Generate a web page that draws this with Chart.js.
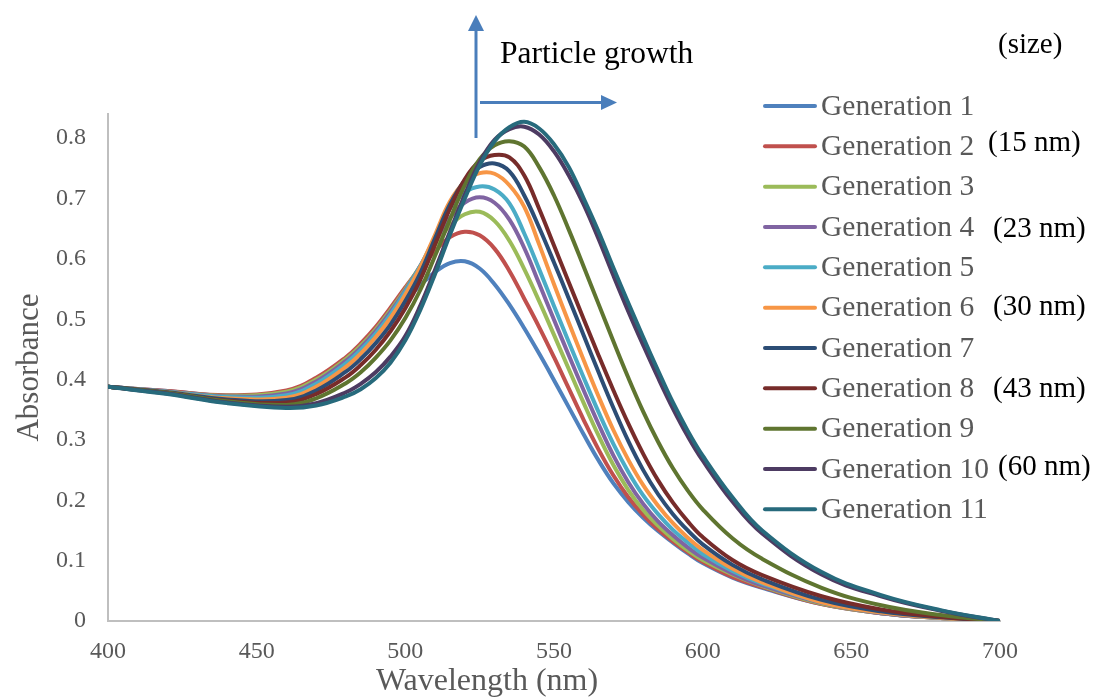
<!DOCTYPE html>
<html>
<head>
<meta charset="utf-8">
<script src="https://cdn.jsdelivr.net/npm/chart.js@4/dist/chart.umd.min.js"></script>
<style>
html,body{margin:0;padding:0;background:#ffffff;}
#wrap{width:1094px;height:698px;position:relative;}
</style>
</head>
<body>
<div id="wrap"><canvas id="c" width="1094" height="698"></canvas></div>
<script>
// ---- data ----
const wavelengths = [400,420,440,460,470,480,485,490,495,500,505,510,515,520,525,530,535,540,545,550,555,560,565,570,575,580,585,590,595,600,610,620,640,660,680,700];

const gen1  = [.388,.381,.373,.379,.398, .428,.449,.474,.502,.530, .556,.578,.593,.596,.584, .558,.524,.485,.443,.399, .354,.309,.266,.228,.197, .171,.149,.130,.112,.096, .072,.055,.028,.013,.005,0];
const gen2  = [.388,.381,.374,.382,.403, .437,.460,.487,.519,.553, .585,.613,.636,.645,.639, .617,.580,.534,.487,.437, .385,.333,.284,.241,.205, .176,.152,.132,.114,.098, .073,.056,.028,.013,.005,0];
const gen3  = [.388,.380,.373,.380,.400, .434,.456,.483,.515,.550, .588,.623,.655,.674,.678, .663,.630,.583,.530,.474, .417,.361,.307,.258,.217, .184,.158,.136,.117,.101, .077,.058,.029,.013,.005,0];
const gen4  = [.388,.380,.372,.377,.397, .431,.453,.480,.512,.548, .588,.630,.668,.693,.702, .693,.665,.618,.559,.499, .440,.382,.326,.274,.230, .194,.165,.142,.122,.105, .079,.059,.030,.013,.005,0];
const gen5  = [.388,.380,.371,.374,.393, .427,.449,.476,.508,.546, .588,.636,.683,.710,.720, .715,.692,.642,.583,.522, .462,.403,.346,.293,.247, .208,.177,.151,.130,.111, .083,.062,.031,.014,.005,0];
const gen6  = [.388,.379,.369,.370,.388, .421,.443,.470,.502,.541, .586,.640,.695,.728,.742, .741,.722,.686,.624,.558, .494,.432,.372,.316,.267, .225,.191,.162,.138,.118, .087,.064,.031,.014,.005,0];
const gen7  = [.388,.379,.367,.366,.382, .413,.434,.460,.491,.530, .576,.634,.690,.730,.752, .758,.745,.705,.652,.594, .534,.473,.412,.353,.298, .250,.210,.177,.150,.127, .093,.069,.035,.016,.006,0];
const gen8  = [.388,.378,.365,.362,.376, .404,.424,.449,.480,.518, .565,.624,.683,.732,.762, .772,.768,.738,.683,.622, .561,.500,.440,.382,.327, .277,.233,.196,.165,.139, .101,.076,.041,.019,.007,0];
const gen9  = [.388,.378,.364,.358,.369, .394,.412,.436,.465,.502, .548,.605,.665,.722,.765, .788,.795,.786,.752,.705, .648,.587,.525,.463,.403, .347,.297,.253,.216,.185, .137,.103,.055,.026,.010,0];
const gen10 = [.388,.377,.362,.355,.361, .379,.393,.412,.438,.472, .522,.582,.645,.706,.760, .797,.815,.819,.806,.778, .738,.690,.633,.572,.513, .457,.403,.352,.306,.266, .198,.145,.077,.041,.017,0];
const gen11 = [.388,.376,.361,.353,.357, .372,.384,.402,.428,.465, .515,.575,.640,.700,.755, .795,.818,.827,.816,.790, .752,.700,.645,.585,.527, .470,.415,.362,.315,.274, .205,.150,.081,.043,.018,0];

const seriesNames = ['Generation 1','Generation 2','Generation 3','Generation 4','Generation 5','Generation 6','Generation 7','Generation 8','Generation 9','Generation 10','Generation 11'];
const seriesColors = ['#4F81BD','#C0504D','#9BBB59','#8064A2','#4BACC6','#F79646','#2C4D75','#772C2A','#5F7530','#4D3B62','#276A7C'];

const xTicks = [400,450,500,550,600,650,700];
const xTickLabels = ['400','450','500','550','600','650','700'];
const yTicks = [0,0.1,0.2,0.3,0.4,0.5,0.6,0.7,0.8];
const yTickLabels = ['0','0.1','0.2','0.3','0.4','0.5','0.6','0.7','0.8'];

const sizeLabels = ['(size)','(15 nm)','(23 nm)','(30 nm)','(43 nm)','(60 nm)'];
const growthLabel = 'Particle growth';
const xTitle = 'Wavelength (nm)';
const yTitle = 'Absorbance';

// ---- rendering ----
const allSeries = [gen1,gen2,gen3,gen4,gen5,gen6,gen7,gen8,gen9,gen10,gen11];
const SERIF = "'Liberation Serif','Times New Roman',serif";

const datasets = allSeries.map((vals,i)=>({
  label: seriesNames[i],
  data: wavelengths.map((w,j)=>({x:w, y:vals[j]})),
  borderColor: seriesColors[i],
  backgroundColor: seriesColors[i],
  borderWidth: 4,
  pointRadius: 0,
  pointHoverRadius: 0,
  fill: false,
  tension: 0.4,
  borderCapStyle: 'round',
  borderJoinStyle: 'round',
  order: allSeries.length - i
}));

const overlay = {
  id: 'overlay',
  afterDraw(chart){
    const ctx = chart.ctx;
    ctx.save();
    // legend (drawn inside the plot, like the original)
    const legTop = 106, legGap = 40.33;
    chart.data.datasets.forEach((ds,i)=>{
      const y = legTop + i*legGap;
      ctx.strokeStyle = ds.borderColor;
      ctx.lineWidth = 4;
      ctx.lineCap = 'round';
      ctx.beginPath(); ctx.moveTo(765, y); ctx.lineTo(815, y); ctx.stroke();
      ctx.fillStyle = '#595959';
      ctx.font = '29.5px ' + SERIF;
      ctx.textAlign = 'left';
      ctx.textBaseline = 'middle';
      ctx.fillText(ds.label, 821, y + 1);
    });
    // size notes
    const notePos = [[998,45],[988,143],[993,229],[993,307],[993,389],[998,467]];
    ctx.fillStyle = '#000000';
    ctx.font = '29px ' + SERIF;
    ctx.textBaseline = 'middle';
    sizeLabels.forEach((t,i)=>ctx.fillText(t, notePos[i][0], notePos[i][1]));
    // particle growth
    ctx.font = '31.5px ' + SERIF;
    ctx.textBaseline = 'alphabetic';
    ctx.fillText(growthLabel, 500, 63);
    // arrows
    ctx.strokeStyle = '#4A7EBB';
    ctx.fillStyle = '#4A7EBB';
    ctx.lineWidth = 3;
    ctx.lineCap = 'butt';
    ctx.beginPath(); ctx.moveTo(476,138); ctx.lineTo(476,28); ctx.stroke();
    ctx.beginPath(); ctx.moveTo(476,15); ctx.lineTo(468,31); ctx.lineTo(484,31); ctx.closePath(); ctx.fill();
    ctx.beginPath(); ctx.moveTo(480,102.5); ctx.lineTo(603,102.5); ctx.stroke();
    ctx.beginPath(); ctx.moveTo(617,102.5); ctx.lineTo(601,95); ctx.lineTo(601,110); ctx.closePath(); ctx.fill();
    // x axis title
    ctx.fillStyle = '#595959';
    ctx.font = '32px ' + SERIF;
    ctx.textAlign = 'center';
    ctx.textBaseline = 'alphabetic';
    ctx.fillText(xTitle, 487, 690);
    ctx.restore();
  }
};

new Chart(document.getElementById('c'), {
  type: 'line',
  data: { datasets },
  options: {
    responsive: false,
    animation: false,
    devicePixelRatio: 1,
    layout: { padding: { left: 0, right: 94, top: 114, bottom: 0 } },
    plugins: { legend: { display: false }, tooltip: { enabled: false } },
    scales: {
      x: {
        type: 'linear', min: 400, max: 700,
        afterBuildTicks: s => { s.ticks = xTicks.map(v => ({ value: v })); },
        afterFit: s => { s.height = 77; },
        ticks: { callback: (v,i) => xTickLabels[i], color: '#595959', font: { family: SERIF, size: 24 }, padding: 16, maxRotation: 0, autoSkip: false },
        grid: { display: false, drawTicks: false },
        border: { display: true, color: '#BFBFBF', width: 2 }
      },
      y: {
        type: 'linear', min: 0, max: 0.84,
        afterBuildTicks: s => { s.ticks = yTicks.map(v => ({ value: v })); },
        afterFit: s => { s.width = 108; },
        ticks: { callback: (v,i) => yTickLabels[i], color: '#595959', font: { family: SERIF, size: 24 }, padding: 22, autoSkip: false },
        grid: { display: false, drawTicks: false },
        border: { display: true, color: '#BFBFBF', width: 2 },
        title: { display: true, text: yTitle, color: '#595959', font: { family: SERIF, size: 31, lineHeight: 1 }, padding: { top: 14, bottom: 0 } }
      }
    }
  },
  plugins: [overlay]
});
</script>
</body>
</html>
